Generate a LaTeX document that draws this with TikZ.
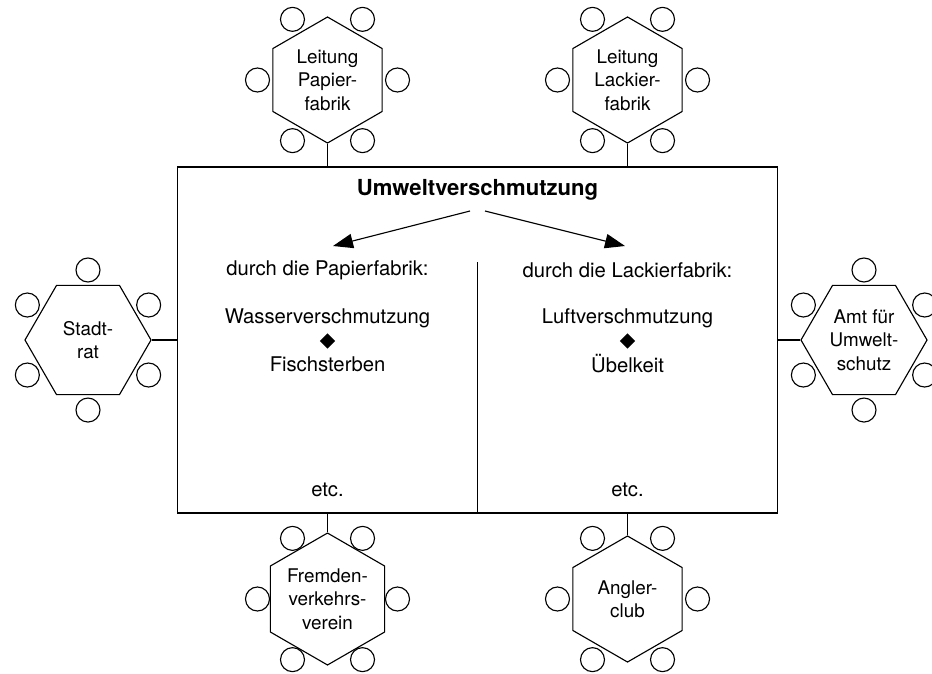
\documentclass[tikz,border=0pt]{standalone}
\usepackage{fontspec}
\setmainfont{TeX Gyre Heros}
\usetikzlibrary{shapes.geometric,arrows.meta}

\begin{document}
\begin{tikzpicture}[x=0.025cm, y=-0.025cm, line width=0.8pt,
		tisch/.style={
			regular polygon, regular polygon sides=6, draw, inner sep=0pt,
			minimum size=3.15cm, align=center, font=\fontsize{13.4}{16.7}\selectfont
		},
		spitz/.style={tisch, regular polygon rotate=30},
		stuhl/.style={circle, draw, inner sep=0pt, minimum size=6mm},
		eintrag/.style={font=\fontsize{14.4}{17}\selectfont},
		titel/.style={font=\fontsize{15.7}{18}\selectfont\bfseries},
		raute/.style={diamond, fill=black, inner sep=0pt, minimum size=3.9mm},
		pfeil/.style={-{Triangle[length=5mm, width=3.6mm]}},
	]
	\useasboundingbox (0,0) rectangle (932,673);
	\node [draw, inner sep=0pt, minimum width=14.975cm, minimum height=8.65cm] (tafel) at (477.5,340) {};

	\node [spitz] (lp) at (327.5,80) {Leitung\\Papier-\\fabrik};
	\node [spitz] (ll) at (627.5,80) {Leitung\\Lackier-\\fabrik};
	\node [tisch] (sr) at (88,340) {Stadt-\\rat};
	\node [tisch] (au) at (864,340) {Amt für\\Umwelt-\\schutz};
	\node [spitz] (fv) at (327.5,599) {Fremden-\\verkehrs-\\verein};
	\node [spitz] (ac) at (627.5,599) {Angler-\\club};

	\foreach \t in {lp,ll,fv,ac}
		\foreach \w in {0,60,...,300}
			\node [stuhl] (\t-\w) at ([shift={(\w:1.75cm)}]\t) {};
	\foreach \t in {sr,au}
		\foreach \w in {30,90,...,330}
			\node [stuhl] (\t-\w) at ([shift={(\w:1.75cm)}]\t) {};

	\draw (lp.south) -- (lp.south |- tafel.north);
	\draw (ll.south) -- (ll.south |- tafel.north);
	\draw (sr.east) -- (sr.east -| tafel.west);
	\draw (au.west) -- (au.west -| tafel.east);
	\draw (fv.north) -- (fv.north |- tafel.south);
	\draw (ac.north) -- (ac.north |- tafel.south);

	\node [titel] (um) at (477.5,190) {Umweltverschmutzung};
	\node [eintrag] (dp) at (327.5,270) {durch die Papierfabrik:};
	\node [eintrag] (dl) at (627.5,270) {durch die Lackierfabrik:};
	\node [eintrag] (wv) at (327.5,318) {Wasserverschmutzung};
	\node [raute] (r1) at (327.5,341) {};
	\node [eintrag] (fs) at (327.5,364) {Fischsterben};
	\node [eintrag] (lv) at (627.5,318) {Luftverschmutzung};
	\node [raute] (r2) at (627.5,341) {};
	\node [eintrag] (ub) at (627.5,364) {Übelkeit};
	\node [eintrag] (e1) at (327.5,490) {etc.};
	\node [eintrag] (e2) at (627.5,490) {etc.};

	\coordinate (a1) at (470,211);
	\coordinate (a2) at (485,211);
	\coordinate (b1) at (333,246);
	\coordinate (b2) at (625,246);
	\draw [pfeil] (a1) -- (b1);
	\draw [pfeil] (a2) -- (b2);

	\coordinate (teil) at (477.5,262);
	\draw (teil) -- (teil |- tafel.south);
\end{tikzpicture}
\end{document}
